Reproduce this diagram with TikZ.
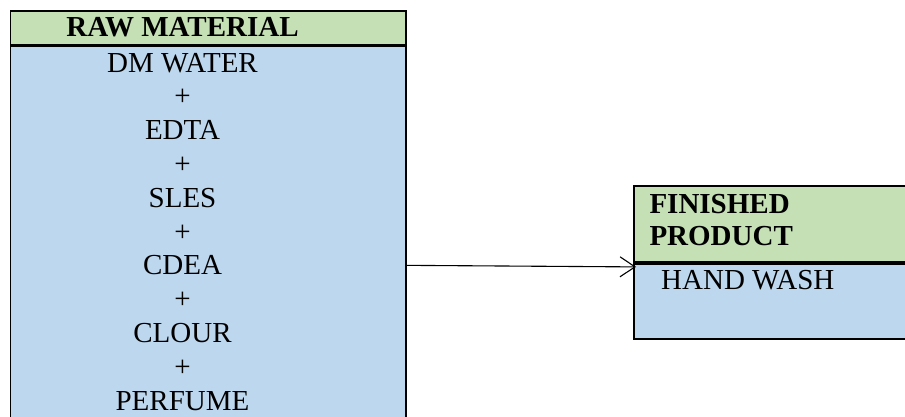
\documentclass[tikz,border=0pt]{standalone}
\usepackage{fontspec}
\setmainfont{Liberation Serif}
\usetikzlibrary{positioning, arrows.meta}
\definecolor{headgreen}{HTML}{C5E0B4}
\definecolor{bodyblue}{HTML}{BDD7EE}
\tikzset{
	block/.style={
		rectangle,
		draw=black, line width=1.9pt,
		anchor=north west,
		inner sep=0pt,
	},
	entry/.style={
		font=\fontsize{29}{34}\selectfont,
		inner sep=0pt,
		anchor=base,
	},
	heading/.style={
		entry,
		font=\fontsize{29}{34}\selectfont\bfseries,
	},
}

\begin{document}
\begin{tikzpicture}[x=1pt, y=-1pt, >={Straight Barb[length=15pt,width=20pt]}]
	\useasboundingbox (0,0) rectangle (905,416);
	\clip (0,0) rectangle (905,416);
	% raw material column
	\node[block, fill=headgreen, minimum width=395.5pt, minimum height=33.5pt] (RM) at (9.5,10) {};
	\node[block, fill=bodyblue, minimum width=395.5pt, minimum height=438pt] (RMbody) at (RM.south west) {};
	\node[heading] (RMtitle) at (182.5,36.5) {RAW MATERIAL};
	\foreach \txt [count=\i from 0] in {DM WATER,+,EDTA,+,SLES,+,CDEA,+,CLOUR,+,PERFUME}
		\node[entry] (item\i) at (182.5,72+33.8*\i) {\txt};
	% finished product
	\node[block, fill=headgreen, minimum width=300pt, minimum height=76pt] (FP) at (633,185) {};
	\node[block, fill=bodyblue, minimum width=300pt, minimum height=75pt] (FPbody) at (FP.south west) {};
	\node[heading, anchor=base west] (FPtitle) at (649.3,213.5) {FINISHED};
	\node[heading, anchor=base west] (FPtitle2) at ([yshift=-31.5pt]FPtitle.base west) {PRODUCT};
	\node[entry, anchor=base west] (HW) at (661,289) {HAND WASH};
	
	\draw[->, line width=1.1pt] (RMbody.east) -- ([xshift=3pt, yshift=-4pt]FPbody.north west);
\end{tikzpicture}
\end{document}
